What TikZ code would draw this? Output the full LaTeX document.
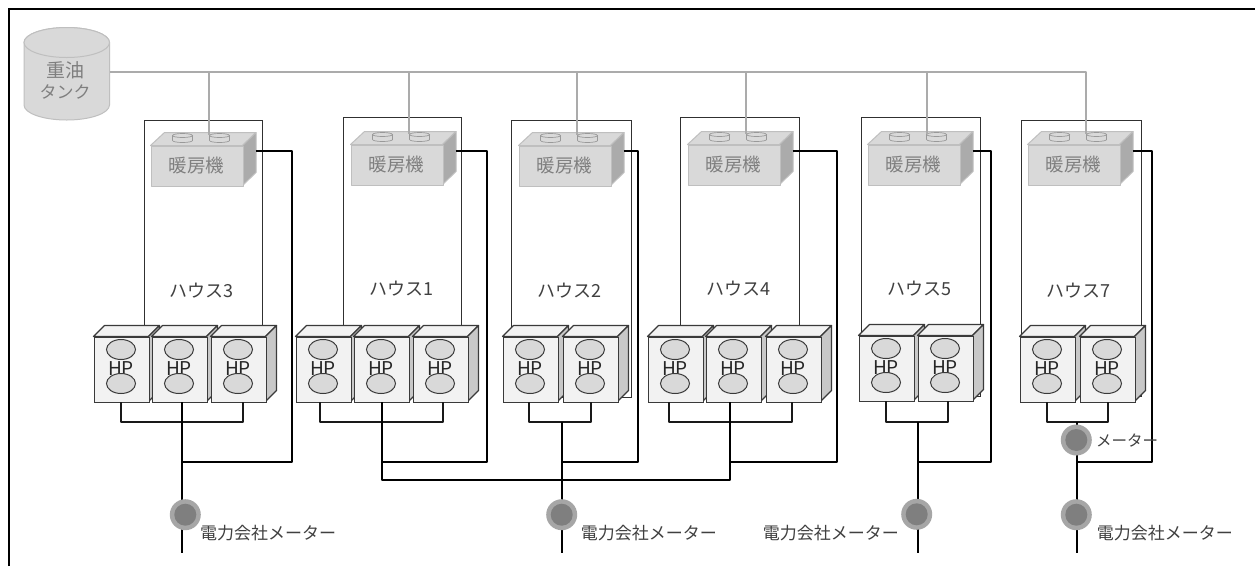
\documentclass[tikz,border=0pt]{standalone}
\usepackage{fontspec}
\setmainfont{Noto Sans CJK JP}[Scale=1]
\usetikzlibrary{calc}
\definecolor{boxline}{HTML}{3A3A3A}
\definecolor{houseline}{HTML}{303030}
\definecolor{boxface}{HTML}{F2F2F2}
\definecolor{boxside}{HTML}{C8C8C8}
\definecolor{heatface}{HTML}{D9D9D9}
\definecolor{heatline}{HTML}{BFBFBF}
\definecolor{heatside}{HTML}{ABABAB}
\definecolor{pipe}{HTML}{ABABAB}
\definecolor{greytext}{HTML}{7F7F7F}
\definecolor{meterout}{HTML}{A6A6A6}
\definecolor{meterin}{HTML}{7F7F7F}
\tikzset{
  housebox/.style={draw=houseline,line width=1pt,fill=white},
  wire/.style={draw=black,line width=2pt,line join=round},
  thinwire/.style={draw=black!90,line width=2pt,line join=round},
  pipeline/.style={draw=pipe,line width=2pt,line join=round},
  hpfront/.style={draw=boxline,fill=boxface,line width=1.2pt,line join=round},
  hpside/.style={draw=boxline,fill=boxside,line width=1.2pt,line join=round},
  hpoval/.style={draw=boxline,fill=heatface,line width=1pt},
  heatfront/.style={draw=heatline,fill=heatface,line width=1pt,line join=round},
  heatdark/.style={draw=heatline,fill=heatside,line width=1pt,line join=round},
  heatcap/.style={draw=greytext!80,fill=heatface,line width=.7pt},
  toplabel/.style={font=\fontsize{18}{18}\selectfont,text=black!75,inner sep=0pt},
  meterlabel/.style={font=\fontsize{17}{17}\selectfont,text=black!75,inner sep=0pt,anchor=west},
  greylabel/.style={text=greytext,inner sep=0pt,align=center},
  hplabel/.style={font=\fontsize{19}{19}\selectfont,text=black!85,inner sep=0pt},
  meteroutstyle/.style={circle,fill=meterout,minimum size=31pt,inner sep=0pt},
}
% \hpunit{name}{x}{y}: front-left top corner of one heat pump box
\newcommand{\hpunit}[3]{%
  \begin{scope}[shift={(#2,#3)}]
    \draw[hpfront] (0,0) -- (11,-11) -- (66,-11) -- (55,0) -- cycle;
    \draw[hpside] (55,0) -- (66,-11) -- (66,54) -- (55,65) -- cycle;
    \node[draw=boxline,fill=boxface,line width=1.2pt,minimum width=55pt,minimum height=65pt,inner sep=0pt,anchor=north west] (#1) at (0,0) {};
    \node[hplabel] (#1t) at (27.5,32) {HP};
    \draw[hpoval] (27.5,13) ellipse (14.5 and 10);
    \draw[hpoval] (27.5,47) ellipse (14.5 and 10);
  \end{scope}}
% \heater{name}{x}{y}: front-left top corner of one heater box
\newcommand{\heater}[3]{%
  \begin{scope}[shift={(#2,#3)}]
    \draw[heatfront] (0,0) -- (14,-13) -- (105.5,-13) -- (92,0) -- cycle;
    \foreach \cx in {32,69}{
      \draw[heatcap] (\cx-10,-10) -- (\cx-10,-5) arc[start angle=180,end angle=0,x radius=10,y radius=2] -- (\cx+10,-10) -- cycle;
      \draw[heatcap] (\cx,-10) ellipse (10 and 2);
    }
    \draw[heatdark] (92,0) -- (105.5,-13) -- (105.5,27) -- (92,40) -- cycle;
    \node[heatfront,minimum width=92pt,minimum height=40pt,inner sep=0pt,anchor=north west] (#1) at (0,0) {};
    \node[greylabel,font=\fontsize{18.5}{18.5}\selectfont] (#1t) at (46,20) {暖房機};
  \end{scope}
  \coordinate (#1out) at (#2+105,151);}
\newcommand{\meter}[3]{%
  \node[meteroutstyle] (#1) at (#2,#3) {};
  \node[circle,fill=meterin,minimum size=22pt,inner sep=0pt] (#1in) at (#2,#3) {};}
\begin{document}
\begin{tikzpicture}[x=1pt,y=-1pt]
\useasboundingbox[fill=white] (0,0) rectangle (1255,566);
% frame
\coordinate (fa) at (9,566);
\coordinate (fb) at (9,9);
\coordinate (fc) at (1255,9);
\draw[black,line width=2pt] (fa) -- (fb) -- (fc);

% house outlines
\draw[housebox] (144.5,120.5) rectangle (262.5,396.5);
\draw[housebox] (343.5,117.5) rectangle (461.5,396.5);
\draw[housebox] (511.5,120.5) rectangle (631.5,397.5);
\draw[housebox] (680.5,117.5) rectangle (799.5,396.5);
\draw[housebox] (861.5,117.5) rectangle (980.5,396.5);
\draw[housebox] (1021.5,120.5) rectangle (1141.5,396.5);

% fuel tank
\path[fill=heatface,draw=heatline,line width=1pt] (24,42.5) -- (24,105) arc[start angle=180,end angle=0,x radius=42.75,y radius=15] -- (109.5,42.5) arc[start angle=360,end angle=180,x radius=42.75,y radius=15] -- cycle;
\draw[heatline,fill=heatface,line width=1pt] (66.75,42.5) ellipse (42.75 and 15);
\node[greylabel] (tank) at (65,80.5) {\fontsize{19}{22}\selectfont 重油\\[4pt]\fontsize{17}{22}\selectfont タンク};
\coordinate (tankout) at (109.5,72);

% heaters
\heater{h3}{150.5}{145.5}
\heater{h1}{350.5}{144.5}
\heater{h2}{518.5}{145.5}
\heater{h4}{687.5}{144.5}
\heater{h5}{867.5}{144.5}
\heater{h7}{1027.5}{144.5}

% fuel pipes
\coordinate (pend) at (1086,72);
\draw[pipeline] (tankout) -- (pend) -- (1086,134);
\draw[pipeline] (209,72) -- (209,135);
\draw[pipeline] (409,72) -- (409,134);
\draw[pipeline] (577,72) -- (577,135);
\draw[pipeline] (746,72) -- (746,134);
\draw[pipeline] (927,72) -- (927,134);

% house labels
\node[toplabel] (l3) at (201.5,291) {ハウス3};
\node[toplabel] (l1) at (401.5,288.5) {ハウス1};
\node[toplabel] (l2) at (569.5,291) {ハウス2};
\node[toplabel] (l4) at (738,289) {ハウス4};
\node[toplabel] (l5) at (919,289) {ハウス5};
\node[toplabel] (l7) at (1078.5,291) {ハウス7};

% wires (below heat pumps first)
\coordinate (j3) at (182,462);
\coordinate (j1) at (382,462);
\coordinate (j2) at (562,462);
\coordinate (j4) at (729,462);
\coordinate (j5) at (918,462);
\coordinate (j7) at (1077,462);
\draw[wire] (h3out) -| (292,462) -- (j3);
\draw[wire] (h1out) -| (487,462) -- (j1);
\draw[wire] (h2out) -| (638,462) -- (j2);
\draw[wire] (h4out) -| (837,462) -- (j4);
\draw[wire] (h5out) -| (991,462) -- (j5);
\draw[wire] (h7out) -| (1152,462) -- (j7);

% heat pump units
\hpunit{p3a}{93.5}{336.5}
\hpunit{p3b}{151.5}{336.5}
\hpunit{p3c}{210.5}{336.5}
\hpunit{p1a}{295.5}{336.5}
\hpunit{p1b}{353.5}{336.5}
\hpunit{p1c}{412.5}{336.5}
\hpunit{p2a}{502.5}{336.5}
\hpunit{p2b}{562.5}{336.5}
\hpunit{p4a}{647.5}{336.5}
\hpunit{p4b}{705.5}{336.5}
\hpunit{p4c}{765.5}{336.5}
\hpunit{p5a}{858.5}{335.5}
\hpunit{p5b}{917.5}{335.5}
\hpunit{p7a}{1019.5}{336.5}
\hpunit{p7b}{1079.5}{336.5}

% meters positions
\coordinate (e3) at (182,553);
\coordinate (e2) at (562,553);
\coordinate (e5) at (918,553);
\coordinate (e7) at (1077,553);

% heat pump buses
\draw[thinwire] (121,402) |- (243,422) -- (243,402);
\draw[thinwire] (320,402) |- (443,422) -- (443,402);
\draw[thinwire] (529,402) |- (591,422) -- (591,402);
\draw[thinwire] (669,402) |- (792,422) -- (792,402);
\draw[thinwire] (886,401) |- (948,422) -- (948,401);
\draw[thinwire] (1047,402) |- (1108,422) -- (1108,402);

% risers
\draw[wire] (182,402) -- (e3);
\draw[wire] (562,422) -- (e2);
\draw[wire] (918,422) -- (e5);
\draw[wire] (1077,422) -- (e7);
\coordinate (n1) at (382,402);
\coordinate (n4) at (730,402);
\draw[wire] (n1) |- (730,480) -- (n4);

% meters
\meter{m3}{185.3}{514.7}
\meter{m2}{561.7}{514.7}
\meter{m5}{916.7}{514.3}
\meter{m7a}{1076.3}{440}
\meter{m7b}{1076.3}{514.7}

% meter labels
\node[meterlabel] (t3) at (200,533) {電力会社メーター};
\node[meterlabel] (t2) at (580.7,533) {電力会社メーター};
\node[meterlabel] (t5) at (762.7,533) {電力会社メーター};
\node[meterlabel] (t7) at (1096.7,533) {電力会社メーター};
\node[meterlabel,font=\fontsize{15.5}{15.5}\selectfont] (t7a) at (1096,441) {メーター};
\end{tikzpicture}
\end{document}
